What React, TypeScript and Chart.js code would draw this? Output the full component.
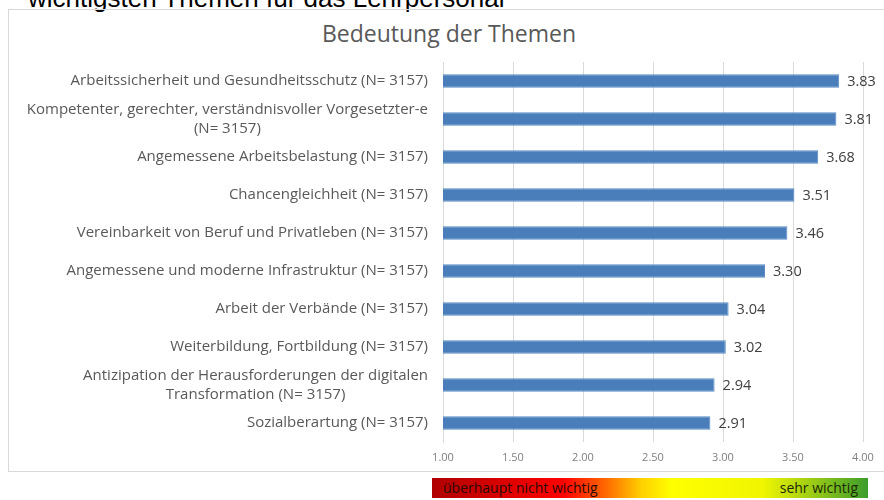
import React, { useEffect, useRef } from "react";
import { Chart, registerables } from "chart.js";

Chart.register(...registerables);

const categories: (string | string[])[] = [
  "Arbeitssicherheit und Gesundheitsschutz (N= 3157)",
  ["Kompetenter, gerechter, verständnisvoller Vorgesetzter-e", "(N= 3157)"],
  "Angemessene Arbeitsbelastung (N= 3157)",
  "Chancengleichheit (N= 3157)",
  "Vereinbarkeit von Beruf und Privatleben (N= 3157)",
  "Angemessene und moderne Infrastruktur (N= 3157)",
  "Arbeit der Verbände (N= 3157)",
  "Weiterbildung, Fortbildung (N= 3157)",
  ["Antizipation der Herausforderungen der digitalen", "Transformation (N= 3157)"],
  "Sozialberartung (N= 3157)",
];
const values = [3.83, 3.81, 3.68, 3.51, 3.46, 3.3, 3.04, 3.02, 2.94, 2.91];
const xMin = 1;
const xMax = 4;
const xStep = 0.5;

const chartTitle = "Bedeutung der Themen";
const headerText = "wichtigsten Themen für das Lehrpersonal";
const scaleLow = "überhaupt nicht wichtig";
const scaleHigh = "sehr wichtig";

const FONT = "'Open Sans', sans-serif";

export default function App() {
  const ref = useRef<HTMLCanvasElement>(null);

  useEffect(() => {
    if (!ref.current) return;
    const labelPlugin = {
      id: "customLabels",
      afterDatasetsDraw(chart: any) {
        const ctx = chart.ctx;
        const yScale = chart.scales.y;
        const xScale = chart.scales.x;
        ctx.save();
        ctx.font = `15px ${FONT}`;
        ctx.fillStyle = "#595959";
        ctx.textBaseline = "middle";
        ctx.textAlign = "center";
        const right = 428;
        const lh = 19;
        categories.forEach((c, i) => {
          const lines = Array.isArray(c) ? c : [c];
          const y = yScale.getPixelForTick(i);
          const w = Math.max(...lines.map((l) => ctx.measureText(l).width));
          const cx = right - w / 2;
          lines.forEach((l, j) => {
            ctx.fillText(l, cx, y + (j - (lines.length - 1) / 2) * lh);
          });
        });
        ctx.fillStyle = "#404040";
        ctx.textAlign = "left";
        ctx.font = `14.5px ${FONT}`;
        values.forEach((v, i) => {
          const x = xScale.getPixelForValue(v) + 8;
          const y = yScale.getPixelForTick(i);
          ctx.fillText(v.toFixed(2), x, y + 1);
        });
        ctx.restore();
      },
    };

    const chart = new Chart(ref.current, {
      type: "bar",
      data: {
        labels: categories as any,
        datasets: [
          {
            data: values,
            backgroundColor: "#4a7ebb",
            borderColor: "#5b8cc6",
            borderWidth: 1,
            barPercentage: 0.7,
            categoryPercentage: 0.5,
          },
        ],
      },
      options: {
        indexAxis: "y",
        animation: false,
        responsive: false,
        layout: { padding: { top: 62, right: 21, bottom: 0, left: 0 } },
        plugins: {
          legend: { display: false },
          tooltip: { enabled: false },
          title: { display: false },
        },
        scales: {
          x: {
            min: xMin,
            max: xMax,
            ticks: {
              stepSize: xStep,
              callback: (v: any) => Number(v).toFixed(2),
              color: "#808080",
              font: { family: FONT, size: 11 },
              padding: 9,
            },
            grid: { color: "#d9d9d9", drawTicks: false },
            border: { display: false },
            afterFit: (s: any) => {
              s.height = 58;
            },
          },
          y: {
            ticks: { display: false },
            grid: { display: false },
            border: { display: true, color: "#d9d9d9" },
            afterFit: (s: any) => {
              s.width = 443;
            },
          },
        },
      },
      plugins: [labelPlugin],
    } as any);
    return () => chart.destroy();
  }, []);

  return (
    <div
      style={{
        position: "fixed",
        left: 0,
        top: 0,
        width: 884,
        height: 500,
        background: "#fff",
        overflow: "hidden",
      }}
    >
      <div
        style={{
          position: "absolute",
          left: 28,
          top: -15,
          font: "26px 'Liberation Sans', Arial, sans-serif",
          lineHeight: "26px",
          color: "#000",
          whiteSpace: "nowrap",
        }}
      >
        {headerText}
      </div>
      <div
        style={{
          position: "absolute",
          left: 8,
          top: 9,
          width: 900,
          height: 463,
          border: "1px solid #d9d9d9",
          boxSizing: "border-box",
        }}
      />
      <div
        style={{
          position: "absolute",
          left: 0,
          width: 898,
          top: 18,
          textAlign: "center",
          font: `23px ${FONT}`,
          lineHeight: "30px",
          color: "#595959",
        }}
      >
        {chartTitle}
      </div>
      <canvas
        ref={ref}
        width={884}
        height={500}
        style={{ position: "absolute", left: 0, top: 0 }}
      />
      <div
        style={{
          position: "absolute",
          left: 432,
          top: 478,
          width: 436,
          height: 20,
          background:
            "linear-gradient(to right, #b00000 0%, #ff0000 30%, #ff6a00 40%, #ffd000 48%, #ffff00 55%, #f0f500 76%, #3c9c2c 100%)",
          font: `14px ${FONT}`,
          lineHeight: "20px",
          color: "#2a0a00",
        }}
      >
        <span style={{ position: "absolute", left: 11 }}>{scaleLow}</span>
        <span style={{ position: "absolute", right: 10, color: "#1a2a00" }}>{scaleHigh}</span>
      </div>
    </div>
  );
}
